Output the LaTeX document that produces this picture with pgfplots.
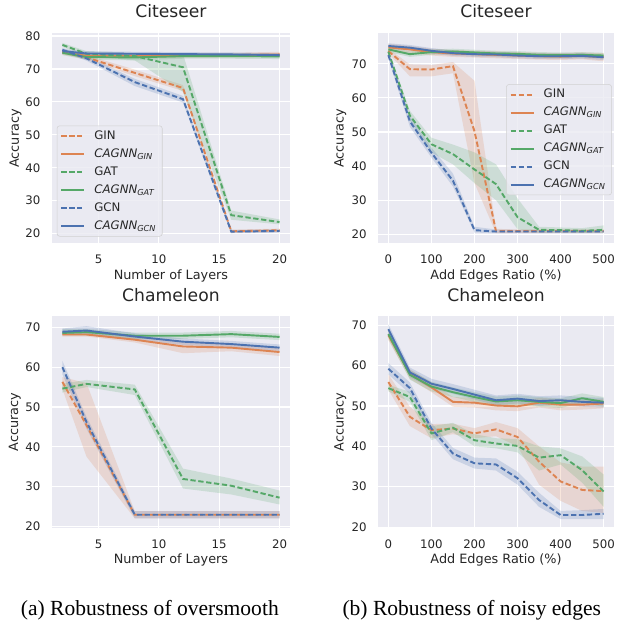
\documentclass[border=0pt]{standalone}
\usepackage{fontspec}
\setmainfont{DejaVu Sans}
\newfontfamily\capfont{Liberation Serif}
\usepackage{pgfplots}
\pgfplotsset{compat=1.18}
\usepackage{pgfplotstable}
\usepgfplotslibrary{fillbetween}
\definecolor{bgc}{HTML}{EAEAF2}
\definecolor{corange}{HTML}{DD8452}
\definecolor{cgreen}{HTML}{55A868}
\definecolor{cblue}{HTML}{4C72B0}
\definecolor{txt}{HTML}{262626}

% Citeseer, number of layers
\pgfplotstableread{
x gin ginl ginh cgin cginl cginh gat gatl gath cgat cgatl cgath gcn gcnl gcnh cgcn cgcnl cgcnh
2 75.2 74.6 75.8 75.0 74.3 75.7 77.3 76.7 77.9 74.9 74.2 75.6 75.8 75.2 76.4 75.4 74.8 76.0
4 73.5 72.8 74.2 74.0 73.3 74.7 74.6 73.8 75.4 73.6 72.8 74.4 73.2 72.5 73.9 74.7 74.0 75.4
8 68.8 67.8 69.8 74.0 73.3 74.7 73.9 72.6 74.8 73.5 72.6 74.4 66.0 64.8 67.0 74.6 74.0 75.2
12 64.2 63.3 65.1 74.1 73.4 74.8 70.5 63.0 74.5 73.9 73.1 74.7 60.8 59.8 61.8 74.5 73.9 75.1
16 20.7 20.2 21.2 74.2 73.5 74.9 25.6 24.2 27.0 73.9 73.1 74.7 20.6 20.1 21.1 74.4 73.8 75.0
20 21.0 20.5 21.5 74.4 73.6 75.2 23.5 22.8 24.3 73.8 73.0 74.6 20.8 20.3 21.3 74.2 73.6 74.8
}\tabA

% Citeseer, add edges ratio
\pgfplotstableread{
x gin ginl ginh cgin cginl cginh gat gatl gath cgat cgatl cgath gcn gcnl gcnh cgcn cgcnl cgcnh
0 73.7 73.0 74.4 74.8 73.8 75.8 73.5 72.8 74.2 74.2 73.4 75.0 72.5 71.5 73.5 75.2 74.4 76.0
50 68.4 66.3 69.8 74.2 73.2 75.2 54.8 53.5 56.2 72.8 72.0 73.6 53.1 51.5 54.6 74.7 73.9 75.5
100 68.3 66.3 69.6 73.4 72.4 74.4 46.4 44.0 48.3 73.4 72.6 74.2 43.9 42.5 45.4 73.8 73.0 74.6
150 69.3 67.2 70.5 73.0 72.0 74.0 43.5 40.5 46.3 73.6 72.8 74.4 35.7 34.0 37.8 73.1 72.3 73.9
200 50.2 35.0 65.0 72.8 71.8 73.8 39.0 35.0 44.0 73.3 72.5 74.1 21.2 20.5 22.2 72.8 72.0 73.6
250 20.9 20.3 21.6 72.6 71.6 73.6 34.7 30.0 40.5 73.0 72.2 73.8 20.8 20.3 21.4 72.7 71.9 73.5
300 20.9 20.4 21.4 72.4 71.4 73.4 25.0 21.5 30.5 72.9 72.1 73.7 20.8 20.3 21.3 72.4 71.6 73.2
350 20.9 20.4 21.4 72.2 71.2 73.2 21.3 20.5 22.2 72.6 71.8 73.4 20.8 20.3 21.3 72.2 71.4 73.0
400 20.9 20.4 21.4 72.1 71.1 73.1 21.2 20.5 22.0 72.5 71.7 73.3 20.8 20.3 21.3 72.2 71.4 73.0
450 20.9 20.4 21.4 72.3 71.3 73.3 21.0 20.4 21.8 72.6 71.8 73.4 20.8 20.3 21.3 72.3 71.5 73.1
500 20.9 20.4 21.4 71.9 70.7 73.1 21.3 20.5 22.6 72.4 71.6 73.2 20.8 20.3 21.3 71.9 71.1 72.7
}\tabB

% Chameleon, number of layers
\pgfplotstableread{
x gin ginl ginh cgin cginl cginh gat gatl gath cgat cgatl cgath gcn gcnl gcnh cgcn cgcnl cgcnh
2 56.3 54.5 57.5 68.2 67.7 68.7 54.6 53.6 55.8 68.6 68.0 69.6 60.0 58.2 61.6 68.9 68.1 69.7
4 45.4 37.5 56.0 68.2 67.7 68.7 55.8 55.0 56.8 68.8 68.0 69.6 46.2 44.5 47.5 69.2 68.1 70.3
8 22.9 22.0 23.8 66.9 66.2 67.6 54.4 53.0 55.6 67.9 67.1 68.7 22.9 22.0 23.8 67.7 66.9 68.5
12 22.9 22.0 23.8 65.2 63.5 66.4 31.9 29.5 34.5 67.9 67.1 68.7 22.9 22.0 23.8 66.4 65.6 67.2
16 22.9 22.0 23.8 64.9 64.0 65.6 30.2 28.0 32.0 68.3 67.5 69.1 22.9 22.0 23.8 65.8 65.0 66.6
20 22.9 22.0 23.8 63.8 62.8 64.8 27.2 25.5 29.0 67.6 66.8 68.4 22.9 22.0 23.8 64.9 64.1 65.7
}\tabC

% Chameleon, add edges ratio
\pgfplotstableread{
x gin ginl ginh cgin cginl cginh gat gatl gath cgat cgatl cgath gcn gcnl gcnh cgcn cgcnl cgcnh
0 55.9 54.0 57.8 67.5 66.3 68.5 54.4 53.6 55.2 67.8 66.6 69.0 59.2 57.8 60.6 69.0 67.8 70.2
50 47.3 45.0 49.8 57.9 56.7 59.1 52.2 51.0 53.5 57.7 56.5 58.9 54.4 53.0 55.8 58.3 57.1 59.5
100 44.0 42.0 45.5 54.6 53.4 55.8 43.2 41.5 45.0 54.8 53.6 56.0 44.4 43.0 45.8 55.5 54.3 56.7
150 44.4 43.0 45.6 51.0 49.8 52.2 44.6 43.5 45.8 53.4 52.2 54.6 38.2 36.8 39.6 54.2 53.0 55.4
200 43.2 42.0 44.5 50.8 49.6 52.0 41.5 40.0 43.0 52.2 51.0 53.4 35.8 34.5 37.2 52.8 51.6 54.0
250 44.2 42.5 46.0 50.1 48.9 51.3 40.7 39.5 42.0 51.1 49.9 52.3 35.5 34.0 37.0 51.4 50.2 52.6
300 42.3 40.0 44.5 49.9 48.7 51.1 40.1 38.5 41.8 51.4 50.2 52.6 32.1 30.5 33.7 51.8 50.6 53.0
350 36.2 30.5 40.0 50.8 49.6 52.0 37.2 34.0 40.0 51.0 49.8 52.2 26.7 25.0 28.5 51.2 50.0 52.4
400 31.3 26.5 36.0 50.3 48.9 51.7 37.8 35.5 39.5 50.7 49.5 51.9 23.0 22.0 24.0 51.4 50.2 52.6
450 29.2 24.0 35.0 50.3 49.1 51.5 34.1 31.0 37.5 51.9 50.7 53.1 23.0 22.0 24.2 51.0 49.8 52.2
500 28.9 23.5 35.0 50.6 49.4 51.8 28.8 25.0 33.0 51.0 49.8 52.2 23.3 22.0 24.5 50.8 49.6 52.0
}\tabD

\tikzset{
  dsh/.style={line width=1.45pt, dash pattern=on 4pt off 2pt},
  sld/.style={line width=1.45pt},
}

\newcommand{\band}[3]{%
  \addplot[draw=none, forget plot, name path=#2lo] table[x=x,y=#2l]{#1};
  \addplot[draw=none, forget plot, name path=#2hi] table[x=x,y=#2h]{#1};
  \addplot[fill=#3, fill opacity=0.2, draw=none, forget plot] fill between[of=#2lo and #2hi];
}
\newcommand{\panel}[1]{%
  \band{#1}{gin}{corange}
  \band{#1}{cgin}{corange}
  \band{#1}{gat}{cgreen}
  \band{#1}{cgat}{cgreen}
  \band{#1}{gcn}{cblue}
  \band{#1}{cgcn}{cblue}
  \addplot[corange, dsh] table[x=x,y=gin]{#1};
  \addplot[corange, sld] table[x=x,y=cgin]{#1};
  \addplot[cgreen, dsh] table[x=x,y=gat]{#1};
  \addplot[cgreen, sld] table[x=x,y=cgat]{#1};
  \addplot[cblue, dsh] table[x=x,y=gcn]{#1};
  \addplot[cblue, sld] table[x=x,y=cgcn]{#1};
}

\pgfplotsset{
  sns/.style={
    scale only axis,
    axis background/.style={fill=bgc},
    axis line style={draw=none},
    grid=major,
    major grid style={white, line width=0.9pt},
    major tick length=0pt,
    tick style={draw=none},
    /pgf/number format/assume math mode=true,
    ticklabel style={font=\fontsize{8.9}{10}\selectfont, text=txt, inner sep=0pt},
    xticklabel style={anchor=base, yshift=-15.5pt},
    yticklabel style={anchor=east, xshift=-8.2pt},
    label style={font=\fontsize{9.7}{11}\selectfont, text=txt},
    title style={font=\fontsize{13}{15}\selectfont, text=txt, anchor=base},
    legend style={font=\fontsize{8.9}{10}\selectfont, text=txt, fill=bgc, fill opacity=0.8, text opacity=1, draw opacity=1, draw=black!18, rounded corners=2pt, inner xsep=2.5pt, inner ysep=1pt, nodes={text height=6.4pt, text depth=1.6pt, inner ysep=2.8pt},
      /tikz/every odd column/.append style={column sep=4.8pt}},
    legend cell align=left,
    legend image code/.code={\draw[##1] (0pt,0pt) -- (17.5pt,0pt);},
  },
  layersx/.style={xmin=1.1, xmax=20.9, xtick={5,10,15,20}, xlabel={Number of Layers}},
  edgesx/.style={xmin=-25, xmax=525, xtick={0,100,200,300,400,500}, xlabel={Add Edges Ratio (\%)}},
  lgd/.style={legend entries={GIN, {\textit{CAGNN}\textsubscript{\textit{GIN}}}, GAT, {\textit{CAGNN}\textsubscript{\textit{GAT}}}, GCN, {\textit{CAGNN}\textsubscript{\textit{GCN}}}}},
}

\begin{document}
\begin{tikzpicture}
\path (0,0) rectangle (467.25pt,471.75pt);

\begin{axis}[sns, layersx, lgd,
  at={(39pt,291.75pt)}, anchor=south west, width=180.75pt, height=159pt,
  ymin=17, ymax=80.8, ytick={20,30,...,80},
  title=Citeseer, title style={at={(axis description cs:0.5,1.038)}},
  xlabel style={at={(axis description cs:0.5,-0.173)}, anchor=base},
  ylabel=Accuracy, ylabel style={at={(axis description cs:-0.151,0.5)}, anchor=center},
  legend style={at={(axis description cs:0.022,0.033)}, anchor=south west}]
\panel{\tabA}
\end{axis}

\begin{axis}[sns, edgesx, lgd,
  at={(285.75pt,291.75pt)}, anchor=south west, width=179.25pt, height=159pt,
  ymin=17.3, ymax=78.9, ytick={20,30,...,70},
  title=Citeseer, title style={at={(axis description cs:0.5,1.038)}},
  xlabel style={at={(axis description cs:0.5,-0.173)}, anchor=base},
  ylabel=Accuracy, ylabel style={at={(axis description cs:-0.158,0.5)}, anchor=center},
  legend style={at={(axis description cs:0.989,0.758)}, anchor=north east}]
\panel{\tabB}
\end{axis}

\begin{axis}[sns, layersx,
  at={(39pt,76.5pt)}, anchor=south west, width=180.75pt, height=160.5pt,
  ymin=19.6, ymax=72.9, ytick={20,30,...,70},
  title=Chameleon, title style={at={(axis description cs:0.5,1.028)}},
  xlabel style={at={(axis description cs:0.5,-0.168)}, anchor=base},
  ylabel=Accuracy, ylabel style={at={(axis description cs:-0.154,0.5)}, anchor=center}]
\panel{\tabC}
\end{axis}

\begin{axis}[sns, edgesx,
  at={(285.75pt,76.5pt)}, anchor=south west, width=179.25pt, height=160.5pt,
  ymin=19.8, ymax=72.3, ytick={20,30,...,70},
  title=Chameleon, title style={at={(axis description cs:0.5,1.028)}},
  xlabel style={at={(axis description cs:0.5,-0.168)}, anchor=base},
  ylabel=Accuracy, ylabel style={at={(axis description cs:-0.158,0.5)}, anchor=center}]
\panel{\tabD}
\end{axis}

\node[anchor=base, inner sep=0pt, font=\capfont\fontsize{16.3}{18}\selectfont] at (113.4pt,10.5pt) {(a) Robustness of oversmooth};
\node[anchor=base, inner sep=0pt, font=\capfont\fontsize{16.3}{18}\selectfont] at (357pt,10.5pt) {(b) Robustness of noisy edges};
\end{tikzpicture}
\end{document}
